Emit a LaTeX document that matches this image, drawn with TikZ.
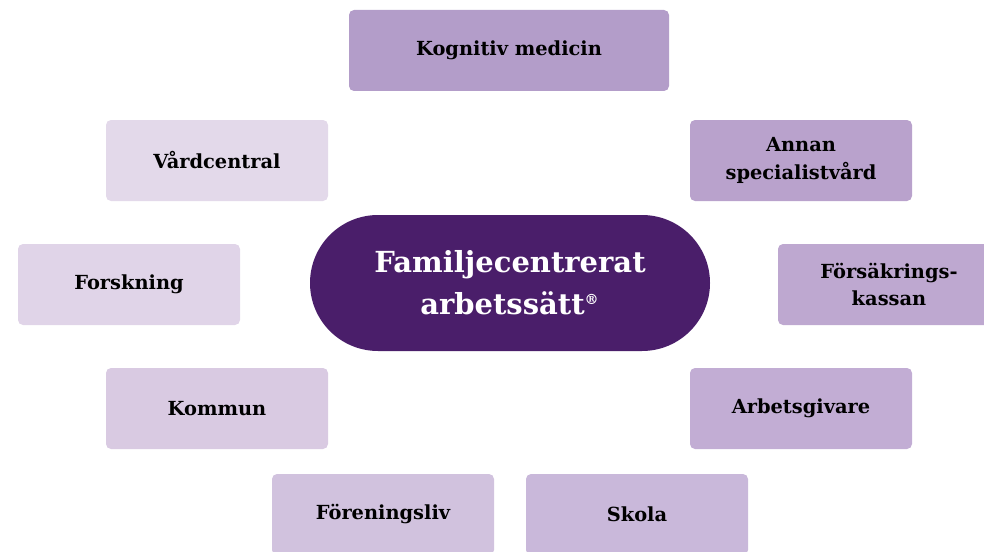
\documentclass[tikz,border=0pt]{standalone}
\usepackage{fontspec}
\setmainfont{DejaVu Serif}
\usepackage{tikz}
\usetikzlibrary{positioning}

\definecolor{kogfill}{HTML}{B39DC9}
\definecolor{vardfill}{HTML}{E3D9EA}
\definecolor{annanfill}{HTML}{B9A2CC}
\definecolor{forskfill}{HTML}{E0D4E8}
\definecolor{forsakfill}{HTML}{BEA8D0}
\definecolor{kommunfill}{HTML}{D9CAE2}
\definecolor{arbetsfill}{HTML}{C2ADD4}
\definecolor{forenfill}{HTML}{D1C2DE}
\definecolor{skolafill}{HTML}{C9B8DA}
\definecolor{midfill}{HTML}{4A1E6A}

\tikzset{
  partbox/.style={rectangle,rounded corners=2.5pt,minimum width=111pt,minimum height=40.5pt,
    align=center,font=\bfseries\fontsize{9.7}{13.8}\selectfont,inner sep=0pt},
  midbox/.style={rectangle,rounded corners=34pt,fill=midfill,minimum width=200pt,minimum height=68pt,
    align=center,text=white,font=\bfseries\fontsize{14.5}{21}\selectfont,inner sep=0pt}
}

\begin{document}
\begin{tikzpicture}[x=0.5pt,y=-0.5pt]
        \useasboundingbox (0,0) rectangle (984,551);
        \clip (0,0) rectangle (984,551);
        \node[midbox] (mid) at (510,283) {Familjecentrerat\\arbetssätt\textsuperscript{\scriptsize®}};
        \begin{scope}[every node/.style={partbox}]
          \node[fill=kogfill,minimum width=160pt] (kog) at (509,50.5) {Kognitiv medicin};
          \node[fill=vardfill] (vard) at (217,160.5) {Vårdcentral};
          \node[fill=annanfill] (annan) at (801,160.5) {Annan\\specialistvård};
          \node[fill=forskfill] (forsk) at (129,284.5) {Forskning};
          \node[fill=forsakfill] (forsak) at (889,284.5) {Försäkrings-\\kassan};
          \node[fill=kommunfill] (kommun) at (217,408.5) {Kommun};
          \node[fill=arbetsfill] (arbets) at (801,408.5) {Arbetsgivare};
          \node[fill=forenfill] (foren) at (383,514.5) {Föreningsliv};
          \node[fill=skolafill] (skola) at (637,514.5) {Skola};
        \end{scope}
      \end{tikzpicture}
\end{document}
